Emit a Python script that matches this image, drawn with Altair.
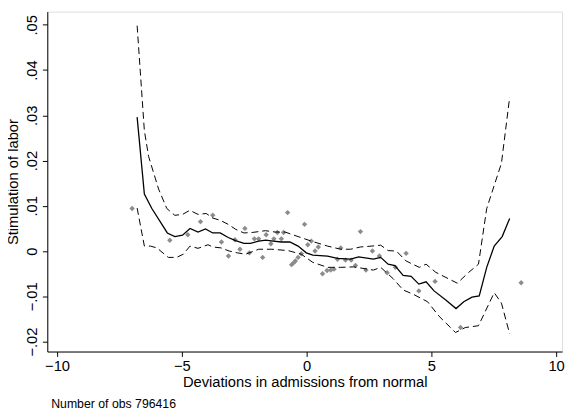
import pandas as pd
import altair as alt

# fitted line
fit_x = [-6.79, -6.50, -6.20, -5.58, -5.28, -4.97, -4.67, -4.35, -4.05, -3.76, -3.46, -3.14,
         -2.84, -2.51, -2.25, -1.92, -1.63, -1.34, -1.00, -0.67, -0.34, -0.01, 0.25, 0.84,
         1.24, 1.76, 2.09, 2.68, 2.97, 3.27, 3.54, 3.87, 4.19, 4.50, 4.79, 5.11, 5.58, 5.99,
         6.30, 6.63, 6.92, 7.22, 7.52, 7.84, 8.14]
fit_y = [.0296, .0126, .0094, .0040, .0032, .0035, .0050, .0042, .0049, .0040, .0040, .0030,
         .0023, .0017, .0017, .0022, .0024, .0022, .0020, .0020, .0011, -.0004, -.0009, -.0011,
         -.0016, -.0018, -.0013, -.0018, -.0014, -.0029, -.0032, -.0054, -.0056, -.0073, -.0068,
         -.0088, -.0108, -.0127, -.0112, -.0102, -.0099, -.0036, .0011, .0032, .0072]

# upper band
up_x = [-6.79, -6.50, -6.33, -5.93, -5.60, -5.28, -4.97, -4.68, -4.35, -4.02, -3.76, -3.46,
        -3.14, -2.84, -2.51, -2.18, -1.65, -1.26, -0.86, -0.34, 0.19, 0.84, 1.37, 1.76, 2.16,
        2.62, 2.97, 3.27, 3.60, 3.99, 4.52, 4.79, 5.18, 6.04, 6.50, 6.89, 7.22, 7.81, 8.14]
up_y = [.0498, .0266, .0209, .0137, .0094, .0079, .0081, .0090, .0081, .0083, .0073, .0068,
        .0059, .0048, .0040, .0041, .0045, .0042, .0042, .0032, .0022, .0011, .0004, .0004,
        .0009, .0011, .0013, .0001, .0000, -.0022, -.0036, -.0029, -.0047, -.0071, -.0047,
        -.0029, .0094, .0194, .0340]

# lower band
lo_x = [-6.79, -6.50, -6.26, -6.00, -5.54, -5.21, -4.94, -4.67, -4.35, -3.95, -3.76, -3.43,
        -3.10, -2.77, -2.44, -1.92, -1.39, -0.74, -0.21, 0.25, 0.84, 1.37, 1.89, 2.68, 2.97,
        3.47, 3.87, 4.26, 4.85, 5.31, 5.97, 6.36, 6.89, 7.52, 7.81, 8.14]
lo_y = [.0095, .0011, .0011, .0007, -.0014, -.0014, -.0007, .0011, .0006, .0014, .0009, .0007,
        .0000, -.0004, -.0007, .0004, .0004, .0001, -.0007, -.0025, -.0036, -.0036, -.0035,
        -.0042, -.0036, -.0061, -.0086, -.0095, -.0112, -.0144, -.0180, -.0169, -.0165,
        -.0092, -.0115, -.0183]

# binned means
pt_x = [-6.99, -5.48, -4.76, -4.25, -3.76, -3.41, -3.13, -2.87, -2.67, -2.47, -2.29, -2.09,
        -1.92, -1.76, -1.62, -1.43, -1.31, -1.17, -1.01, -0.92, -0.76, -0.60, -0.52, -0.45,
        -0.34, -0.21, -0.08, 0.05, 0.19, 0.34, 0.47, 0.64, 0.82, 0.97, 1.10, 1.24, 1.37, 1.56,
        1.79, 1.96, 2.16, 2.38, 2.64, 2.92, 3.23, 3.56, 3.99, 4.50, 5.15, 6.17, 8.60]
pt_y = [.0094, .0024, .0036, .0065, .0079, .0020, -.0011, .0025, .0004, .0050, -.0004, .0027,
        .0027, -.0014, .0036, .0016, .0027, .0041, .0027, .0041, .0085, -.0030, -.0026, -.0022,
        -.0014, -.0006, .0059, .0014, .0022, .0000, .0009, -.0050, -.0043, -.0042, -.0040,
        -.0018, .0007, -.0020, -.0020, -.0032, .0043, -.0042, .0000, -.0011, -.0048, -.0036,
        -.0005, -.0088, -.0067, -.0169, -.0070]

FONT = "Liberation Sans"
xs = alt.Scale(domain=[-10.39, 10.24], nice=False, zero=False)
ys = alt.Scale(domain=[-0.0222, 0.0529], nice=False, zero=False)

x_ax = alt.Axis(values=[-10, -5, 0, 5, 10], grid=False, tickSize=5, labelFontSize=15,
                titleFontSize=15, labelFont=FONT, titleFont=FONT, labelColor="black",
                titleColor="black", domainColor="black", tickColor="black",
                labelPadding=2, titlePadding=2, labelFlush=False,
                title="Deviations in admissions from normal", titleFontWeight="normal")
y_ax = alt.Axis(values=[-0.02, -0.01, 0, 0.01, 0.02, 0.03, 0.04, 0.05], grid=False, tickSize=5,
                labelFontSize=15, titleFontSize=15, labelFont=FONT, titleFont=FONT,
                labelColor="black", titleColor="black", domainColor="black", tickColor="black",
                labelAngle=270, labelAlign="center", labelBaseline="bottom", labelPadding=3,
                labelFlush=False, titlePadding=4, title="Stimulation of labor",
                titleFontWeight="normal",
                labelExpr="datum.value == 0 ? '0' : replace(format(datum.value, '.2f'), '0.', '.')")

fit = pd.DataFrame({"x": fit_x, "y": fit_y})
up = pd.DataFrame({"x": up_x, "y": up_y})
lo = pd.DataFrame({"x": lo_x, "y": lo_y})
pts = pd.DataFrame({"x": pt_x, "y": pt_y})

scatter = alt.Chart(pts).mark_point(shape="diamond", filled=True, color="#8c8c8c",
                                    size=30, opacity=1).encode(
    x=alt.X("x:Q", scale=xs, axis=x_ax),
    y=alt.Y("y:Q", scale=ys, axis=y_ax),
)
line = alt.Chart(fit).mark_line(color="black", strokeWidth=1.3).encode(
    x=alt.X("x:Q", scale=xs), y=alt.Y("y:Q", scale=ys))
upper = alt.Chart(up).mark_line(color="black", strokeWidth=1, strokeDash=[7, 4]).encode(
    x=alt.X("x:Q", scale=xs), y=alt.Y("y:Q", scale=ys))
lower = alt.Chart(lo).mark_line(color="black", strokeWidth=1, strokeDash=[7, 4]).encode(
    x=alt.X("x:Q", scale=xs), y=alt.Y("y:Q", scale=ys))

note = alt.Chart(pd.DataFrame({"t": ["Number of obs 796416"]})).mark_text(
    align="left", baseline="middle", fontSize=12.5, font=FONT, color="black"
).encode(x=alt.value(4), y=alt.value(399), text="t:N")

chart = (scatter + upper + lower + line + note).properties(
    width=524, height=346,
    autosize=alt.AutoSizeParams(type="none"),
    padding={"left": 40, "top": 0, "right": 4, "bottom": 66},
).configure_view(stroke="black", strokeWidth=1.2).configure(background="white")

chart.save("out.html", embed_options={"renderer": "svg", "actions": False})
